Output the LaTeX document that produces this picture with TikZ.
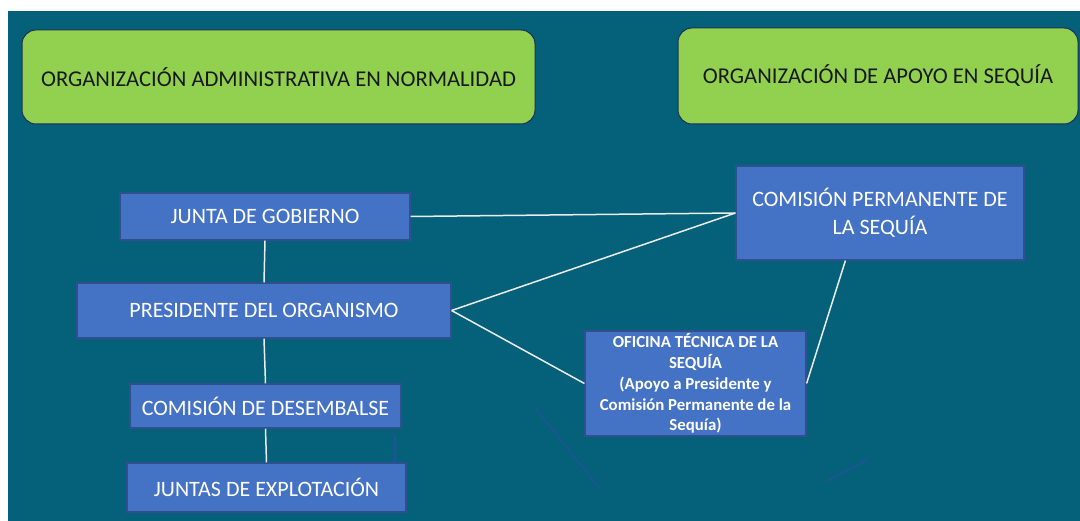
\documentclass[tikz,border=0pt]{standalone}
\usepackage{fontspec}
\setmainfont{Carlito}
\usepackage{tikz}

\definecolor{fondo}{HTML}{05607A}
\definecolor{verde}{HTML}{92D050}
\definecolor{azul}{HTML}{4472C4}
\definecolor{borde}{HTML}{2F4F8F}
\definecolor{raya}{HTML}{24529A}

\begin{document}
\begin{tikzpicture}[x=1pt, y=-1pt,
    titulo/.style={draw=borde!60!black, line width=1pt, fill=verde, rounded corners=14pt, text=black!90, font=\fontsize{22.6}{26}\selectfont, inner sep=0pt},
    caja/.style={draw=borde, line width=1.2pt, fill=azul, text=white, align=center, inner sep=0pt, font=\fontsize{22}{28}\selectfont},
    enlace/.style={draw=white!85!gray, line width=1.5pt}]
    \useasboundingbox (0,0) rectangle (1080,521);
    \fill[fondo] (8,11) rectangle (1080,521);
    % titulos
    \node[titulo, minimum width=513pt, minimum height=94pt] (normal) at (278.5,77) {ORGANIZACIÓN ADMINISTRATIVA EN NORMALIDAD};
    \node[titulo, minimum width=400pt, minimum height=96pt] (sequia) at (878,76) {ORGANIZACIÓN DE APOYO EN SEQUÍA};
    % organizacion normal
    \node[caja, minimum width=290pt, minimum height=47pt] (junta) at (265,216.5) {JUNTA DE GOBIERNO};
    \node[caja, minimum width=374pt, minimum height=55pt] (pres) at (264,310.5) {PRESIDENTE DEL ORGANISMO};
    \node[caja, minimum width=271pt, minimum height=44pt] (desemb) at (265.5,406) {COMISIÓN DE DESEMBALSE};
    \node[caja, minimum width=279pt, minimum height=49pt] (explot) at (266.5,487.5) {JUNTAS DE EXPLOTACIÓN};
    % organizacion en sequia
    \node[caja, minimum width=288pt, minimum height=94pt] (cperm) at (880,213) {COMISIÓN PERMANENTE DE\\LA SEQUÍA};
    \node[caja, minimum width=221pt, minimum height=105pt, font=\bfseries\fontsize{16.8}{20.8}\selectfont] (oficina) at (695.5,383.5) {OFICINA TÉCNICA DE LA\\SEQUÍA\\(Apoyo a Presidente y\\Comisión Permanente de la\\Sequía)};
    % conexiones
    \draw[enlace] (junta.south) -- (pres.north);
    \draw[enlace] (pres.south) -- (desemb.north);
    \draw[enlace] (desemb.south) -- (explot.north);
    \draw[enlace] (junta.east) -- (cperm.west);
    \draw[enlace] (pres.east) -- (cperm.west);
    \draw[enlace] (pres.east) -- (oficina.west);
    \draw[enlace] (oficina.east) -- ([xshift=110pt]cperm.south west);
    % trazos sueltos
    \draw[raya, line width=1.5pt] (395,435) -- (395,463);
    \draw[raya, line width=1.2pt] (536,409) -- (600,489);
    \draw[raya, line width=1.5pt] (825,482) -- (867,460);
\end{tikzpicture}
\end{document}
